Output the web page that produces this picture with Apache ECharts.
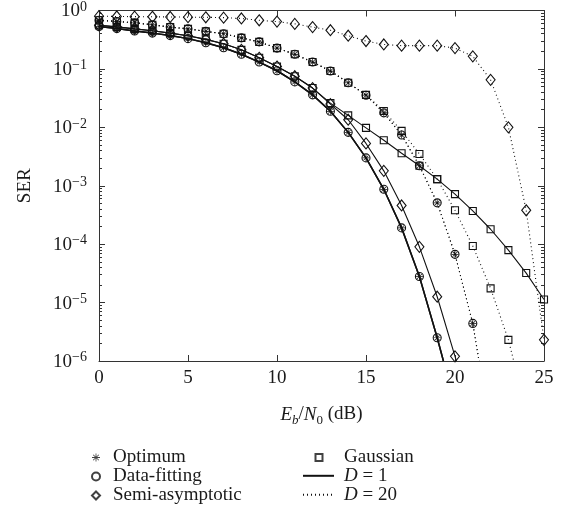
<!DOCTYPE html>
<html><head><meta charset="utf-8">
<script src="https://cdn.jsdelivr.net/npm/echarts@6/dist/echarts.min.js"></script>
<style>html,body{margin:0;padding:0;background:#fff}#c{width:564px;height:527px}</style>
</head><body><div id="c"></div>
<script>
// ---------- data ----------
const ebn0 = [0,1,2,3,4,5,6,7,8,9,10,11,12,13,14,15,16,17,18,19,20,21,22,23,24,25];
// D = 1 (solid)
const optimumD1     = [0.53,0.49,0.445,0.41,0.372,0.33,0.28,0.23,0.178,0.131,0.093,0.06,0.036,0.0188,0.0082,0.003,8.7e-4,1.9e-4,2.8e-5,2.5e-6];
const dataFitD1     = [0.53,0.49,0.445,0.41,0.372,0.33,0.28,0.23,0.178,0.131,0.093,0.06,0.036,0.0188,0.0082,0.003,8.7e-4,1.9e-4,2.8e-5,2.5e-6];
const semiAsymD1    = [0.56,0.525,0.485,0.45,0.41,0.37,0.32,0.27,0.212,0.155,0.11,0.075,0.047,0.025,0.0135,0.0053,0.0018,4.6e-4,9e-5,1.26e-5,1.2e-6];
const gaussianD1    = [0.56,0.525,0.485,0.45,0.41,0.37,0.32,0.27,0.212,0.155,0.11,0.075,0.047,0.026,0.016,0.0098,0.006,0.0036,0.0022,0.0013,7.2e-4,3.7e-4,1.8e-4,7.9e-5,3.2e-5,1.13e-5];
// D = 20 (dotted)
const optimumD20    = [0.68,0.65,0.615,0.57,0.52,0.485,0.44,0.40,0.34,0.29,0.227,0.178,0.131,0.092,0.058,0.0355,0.0177,0.0074,0.0022,5.1e-4,6.7e-5,4.4e-6];
const dataFitD20    = [0.68,0.65,0.615,0.57,0.52,0.485,0.44,0.40,0.34,0.29,0.227,0.178,0.131,0.092,0.058,0.0355,0.0177,0.0074,0.0022,5.1e-4,6.7e-5,4.4e-6];
const semiAsymD20   = [0.80,0.79,0.785,0.78,0.775,0.77,0.765,0.755,0.73,0.68,0.645,0.59,0.52,0.46,0.37,0.30,0.262,0.25,0.25,0.25,0.227,0.164,0.065,0.0100,3.8e-4,2.3e-6];
const gaussianD20   = [0.68,0.65,0.615,0.57,0.52,0.485,0.44,0.40,0.34,0.29,0.227,0.178,0.131,0.092,0.058,0.036,0.019,0.0087,0.0035,0.0013,3.8e-4,9.3e-5,1.75e-5,2.3e-6];
// where the curves leave the plot at the bottom (Eb/N0, SER)
const optimumD1Exit  = [19.35, 1e-6];
const semiAsymD1Exit = [20.08, 1e-6];
const optimumD20Exit = [21.35, 1e-6];
const gaussianD20Exit= [23.3, 1e-6];
// tick labels / names
const xTicks = [0,5,10,15,20,25];
const methodNames = ['Optimum','Data-fitting','Semi-asymptotic','Gaussian'];
const dNames = ['D = 1','D = 20'];

// ---------- chart ----------
const FONT = 'Liberation Serif';
const INK = '#1a1a1a';
const AX = '#333';
const starPath = 'path://M9,0L11,0L11,20L9,20Z M0,9L20,9L20,11L0,11Z M2.2,3.6L3.6,2.2L17.8,16.4L16.4,17.8Z M16.4,2.2L17.8,3.6L3.6,17.8L2.2,16.4Z';
const SYM = {
  'Optimum':        {symbol: starPath, size: 7, item: {color: '#111', borderWidth: 0}},
  'Data-fitting':   {symbol: 'circle', size: 8, item: {color: 'rgba(0,0,0,0)', borderColor: '#111', borderWidth: 1.1}},
  'Semi-asymptotic':{symbol: 'diamond', size: [9,11], item: {color: 'rgba(0,0,0,0)', borderColor: '#111', borderWidth: 1.1}},
  'Gaussian':       {symbol: 'rect', size: 7, item: {color: 'rgba(0,0,0,0)', borderColor: '#111', borderWidth: 1.1}}
};
const DOT = [1,3];

function mk(method, d, values, exit, lw) {
  const s = SYM[method];
  const data = values.map((v, i) => [ebn0[i], v]);
  if (exit) data.push({value: exit, symbol: 'none'});
  return {
    type: 'line', name: method + ' ' + d, data,
    symbol: s.symbol, symbolSize: s.size, showSymbol: true, showAllSymbol: true,
    itemStyle: s.item,
    lineStyle: {color: '#111', width: lw || 1.1, type: d === 'D1' ? 'solid' : DOT},
    clip: true, silent: true, z: 3
  };
}

const minorVals = [];
for (let e = -6; e < 0; e++) for (let k = 2; k <= 9; k++) minorVals.push(+(k * Math.pow(10, e)).toPrecision(3));

function supLabel(v) {
  const e = Math.round(Math.log10(v));
  return '{b|10}{s|' + (e < 0 ? '\u2212' : '') + Math.abs(e) + '}';
}

const baseY = {type: 'log', min: 1e-6, max: 1, logBase: 10, splitNumber: 6, splitLine: {show: false}};
const series = [
  mk('Gaussian', 'D1', gaussianD1, null, 1.1),
  mk('Semi-asymptotic', 'D1', semiAsymD1, semiAsymD1Exit, 1.1),
  mk('Data-fitting', 'D1', dataFitD1, optimumD1Exit, 1.5),
  mk('Optimum', 'D1', optimumD1, optimumD1Exit, 1.5),
  mk('Gaussian', 'D20', gaussianD20, gaussianD20Exit, 1.1),
  mk('Semi-asymptotic', 'D20', semiAsymD20, null, 1.1),
  mk('Data-fitting', 'D20', dataFitD20, optimumD20Exit, 1.1),
  mk('Optimum', 'D20', optimumD20, optimumD20Exit, 1.1)
];
// legend-only series
methodNames.forEach(m => series.push({type: 'scatter', name: m, data: [], symbol: SYM[m].symbol, itemStyle: SYM[m].item}));
const hiddenDot = {color: 'rgba(0,0,0,0)', borderWidth: 0};
series.push({type: 'line', name: dNames[0], data: [], symbol: 'none', itemStyle: hiddenDot, lineStyle: {color: '#111', width: 1.1, type: 'solid'}});
series.push({type: 'line', name: dNames[1], data: [], symbol: 'none', itemStyle: hiddenDot, lineStyle: {color: '#111', width: 1.1, type: DOT}});

const legText = {fontSize: 19, fontFamily: FONT, color: INK, lineHeight: 18.3};
const option = {
  animation: false,
  backgroundColor: '#fff',
  grid: {left: 99, right: 20, top: 10, bottom: 166, containLabel: false},
  xAxis: [
    {type: 'value', min: 0, max: 25, interval: 5, position: 'bottom',
     axisLine: {lineStyle: {color: AX, width: 1}},
     axisTick: {inside: true, length: 6, lineStyle: {color: AX}},
     axisLabel: {margin: 8, fontSize: 19, fontFamily: FONT, color: INK,
                 formatter: v => xTicks.indexOf(v) >= 0 ? String(v) : ''},
     splitLine: {show: false},
     name: '{i|E}{sb|b}{n|/}{i|N}{s0|0}{n| (dB)}', nameLocation: 'middle', nameGap: 44,
     nameTextStyle: {rich: {
       i: {fontSize: 19, fontFamily: FONT, fontStyle: 'italic', color: INK, lineHeight: 22, verticalAlign: 'top'},
       n: {fontSize: 19, fontFamily: FONT, color: INK, lineHeight: 22, verticalAlign: 'top'},
       sb: {fontSize: 13, fontFamily: FONT, fontStyle: 'italic', color: INK, lineHeight: 13, verticalAlign: 'bottom'},
       s0: {fontSize: 13, fontFamily: FONT, color: INK, lineHeight: 13, verticalAlign: 'bottom'}
     }}},
    {type: 'value', min: 0, max: 25, interval: 5, position: 'top',
     axisLine: {lineStyle: {color: AX, width: 1}},
     axisTick: {inside: true, length: 6, lineStyle: {color: AX}},
     axisLabel: {show: false}, splitLine: {show: false}}
  ],
  yAxis: [
    Object.assign({}, baseY, {position: 'left',
      axisLine: {lineStyle: {color: AX, width: 1}},
      axisTick: {inside: true, length: 6, lineStyle: {color: AX}},
      axisLabel: {margin: 12, formatter: supLabel, rich: {
        b: {fontSize: 19, fontFamily: FONT, color: INK, lineHeight: 21, verticalAlign: 'bottom'},
        s: {fontSize: 14, fontFamily: FONT, color: INK, lineHeight: 14, verticalAlign: 'top'}
      }},
      name: 'SER', nameLocation: 'middle', nameGap: 64,
      nameTextStyle: {fontSize: 19, fontFamily: FONT, color: INK}}),
    Object.assign({}, baseY, {position: 'left', axisLine: {show: false},
      axisTick: {inside: true, length: 3, customValues: minorVals, lineStyle: {color: AX}},
      axisLabel: {show: false}}),
    Object.assign({}, baseY, {position: 'right',
      axisLine: {lineStyle: {color: AX, width: 1}},
      axisTick: {inside: true, length: 6, lineStyle: {color: AX}},
      axisLabel: {show: false}}),
    Object.assign({}, baseY, {position: 'right', axisLine: {show: false},
      axisTick: {inside: true, length: 3, customValues: minorVals, lineStyle: {color: AX}},
      axisLabel: {show: false}})
  ],
  legend: [
    {left: 91, top: 448, padding: 0, orient: 'vertical', itemWidth: 8, itemHeight: 8, itemGap: 0,
     selectedMode: false, data: methodNames.slice(0, 3),
     textStyle: Object.assign({}, legText, {padding: [0, 0, 0, 8]})},
    {left: 314.5, top: 448, padding: 0, orient: 'vertical', itemWidth: 7, itemHeight: 7, itemGap: 0,
     selectedMode: false, data: [methodNames[3]],
     textStyle: Object.assign({}, legText, {padding: [0, 0, 0, 16.5]})},
    {left: 302, top: 466.3, padding: 0, orient: 'vertical', itemWidth: 31, itemHeight: 7, itemGap: 0,
     selectedMode: false, data: dNames,
     formatter: n => '{i|D}{n|' + n.slice(1) + '}',
     textStyle: Object.assign({}, legText, {padding: [0, 0, 0, 5], rich: {
       i: {fontSize: 19, fontFamily: FONT, fontStyle: 'italic', color: INK, lineHeight: 18.3},
       n: {fontSize: 19, fontFamily: FONT, color: INK, lineHeight: 18.3}
     }})}
  ],
  series
};
const chart = echarts.init(document.getElementById('c'), null, {renderer: 'canvas'});
chart.setOption(option);
</script></body></html>
